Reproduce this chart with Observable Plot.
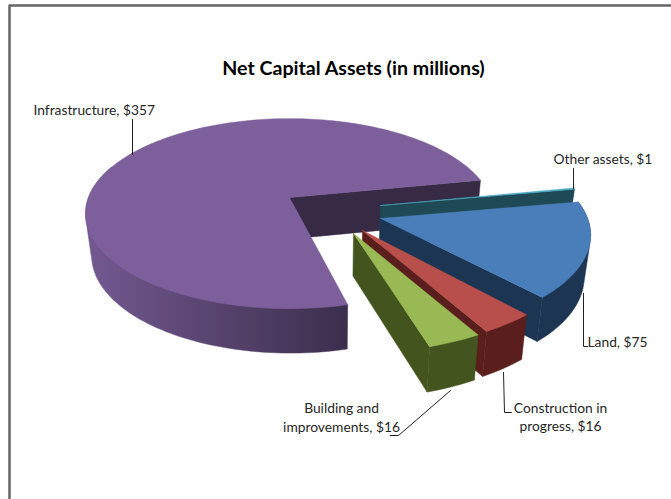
<!DOCTYPE html>
<html>
<head>
<meta charset="utf-8">
<script src="https://cdn.jsdelivr.net/npm/d3@7"></script>
<script src="https://cdn.jsdelivr.net/npm/@observablehq/plot@0.6"></script>
<style>
html,body{margin:0;padding:0;background:#fff}
svg{display:block}
</style>
</head>
<body>
<div id="chart"></div>
<script>
// Data
const categories = ["Other assets", "Land", "Construction in progress", "Building and improvements", "Infrastructure"];
const values = [1, 75, 16, 16, 357];
const title = "Net Capital Assets (in millions)";
const labelLines = [
  ["Other assets, $1"],
  ["Land, $75"],
  ["Construction in", "progress, $16"],
  ["Building and", "improvements, $16"],
  ["Infrastructure, $357"]
];

// Colours
const topColors = ["#4bacc6", "#4a7ebb", "#b94f4b", "#98b954", "#7d5f9c"];
const sideColors = ["#1f4a55", "#1c3553", "#5a1f1c", "#44541f", "#372a45"];

// 3-D look of the exploded pie
const apexX = [380, 380, 362, 353, 289];
const apexY = [205, 218, 230, 233, 197];
const sliceScale = [1.01, 1.03, 1.07, 1.075, 1];
const startNudge = [0, 0, 0, 0, 3.2];
const endNudge = [0, -1.5, 0, 0, 0];
const startDeg = 79, rx = 204, ry = 95, centerShift = 0.17;

const rad = (d) => d * Math.PI / 180;
const arcs = d3.pie().sort(null).startAngle(rad(startDeg)).endAngle(rad(startDeg + 360))(values);

function rim(i, a) {
  const dx = Math.sin(a), dy = -Math.cos(a);
  const b = dy * centerShift;
  const t = b + Math.sqrt(b * b - centerShift * centerShift + 1);
  return {x: apexX[i] + sliceScale[i] * rx * t * dx, y: apexY[i] + sliceScale[i] * ry * t * dy};
}
const lower = (p) => ({x: 330 + (p.x - 330) * 0.975, y: p.y + 41.5 + (p.y - 200) * 0.027});

let id = 0;
function face(target, pts, color) {
  id++;
  [...pts, pts[0]].forEach((p) => target.push({x: p.x, y: p.y, id, color}));
}
function rimPoints(i, maxDeg) {
  const a0 = arcs[i].startAngle + rad(startNudge[i]);
  const a1 = Math.min(arcs[i].endAngle + rad(endNudge[i]), maxDeg ? rad(maxDeg) : Infinity);
  const n = Math.max(2, Math.ceil((a1 - a0) / rad(1.5)));
  return d3.range(n + 1).map((k) => rim(i, a0 + (a1 - a0) * k / n));
}
// The side of a curved rim: the outline swept by the rim as it drops to the base
function sweep(r) {
  const hull = d3.polygonHull([...r, ...r.map(lower)].map((p) => [p.x, p.y]));
  return hull.map(([x, y]) => ({x, y}));
}

// Infrastructure inner wall, then its curved wall (gradient), then everything else
const backFaces = [], curvedWall = [], frontFaces = [];
function drawSlice(i) {
  const apex = {x: apexX[i], y: apexY[i]};
  const r = rimPoints(i);
  const end = r[r.length - 1];
  if (i === 4) {
    face(backFaces, [apex, end, lower(end), lower(apex)], sideColors[i]);
    face(curvedWall, sweep(rimPoints(i, 290)), "wall");
  } else {
    face(frontFaces, sweep(r), sideColors[i]);
    face(frontFaces, [apex, end, lower(end), lower(apex)], sideColors[i]);
  }
  face(frontFaces, [apex, ...r], topColors[i]);
}
[4, 0, 1, 2, 3].forEach(drawSlice);

const wallGradient = () => {
  const defs = d3.create("svg:defs");
  const g = defs.append("linearGradient").attr("id", "wallGrad")
    .attr("gradientUnits", "userSpaceOnUse")
    .attr("x1", 90).attr("x2", 350).attr("y1", 0).attr("y2", 0);
  g.append("stop").attr("offset", 0).attr("stop-color", "#72588f");
  g.append("stop").attr("offset", 1).attr("stop-color", "#3b2e4c");
  return defs.node();
};

// Leader lines
const leaders = [
  [[573, 168], [573, 188]],
  [[583, 293], [583, 346], [587, 346]],
  [[503, 372], [504, 412], [511, 412]],
  [[450, 390], [398, 435], [390, 435]],
  [[132, 119], [132, 154]]
].flatMap((seg, k) => seg.map(([x, y]) => ({x, y, k})));

// Label placement
const labelRows = [
  {t: labelLines[4][0], x: 33, y: 110, a: "start"},
  {t: labelLines[0][0], x: 553, y: 159, a: "start"},
  {t: labelLines[1][0], x: 587, y: 342, a: "start"},
  {t: labelLines[2][0], x: 560, y: 408, a: "middle"},
  {t: labelLines[2][1], x: 560, y: 426, a: "middle"},
  {t: labelLines[3][0], x: 341, y: 408, a: "middle"},
  {t: labelLines[3][1], x: 341, y: 427, a: "middle"}
];
const anchored = (a) => labelRows.filter((d) => d.a === a);
const labelOpts = {x: "x", y: "y", text: "t", fontSize: 13.8, fill: "#262626", fontFamily: "Lato"};
const faceOpts = {x: "x", y: "y", z: "id", fill: "color", stroke: "color", strokeWidth: 0.5};

const chart = Plot.plot({
  width: 671,
  height: 499,
  margin: 0,
  style: {background: "#fff"},
  x: {domain: [0, 671], range: [0, 671], axis: null},
  y: {domain: [0, 499], range: [0, 499], axis: null},
  color: {type: "identity"},
  marks: [
    wallGradient,
    Plot.line([{x: 9, y: 499}, {x: 9, y: 5}, {x: 671, y: 5}], {x: "x", y: "y", stroke: "#666", strokeWidth: 2.5}),
    Plot.line(backFaces, faceOpts),
    Plot.line(curvedWall, {x: "x", y: "y", z: "id", fill: "url(#wallGrad)", stroke: "url(#wallGrad)", strokeWidth: 0.5}),
    Plot.line(frontFaces, faceOpts),
    Plot.line(leaders, {x: "x", y: "y", z: "k", stroke: "#222", strokeWidth: 1}),
    Plot.text([title], {x: () => 353, y: () => 68, text: (d) => d, fontSize: 19.6, fontWeight: "bold", fill: "#000", fontFamily: "Lato"}),
    Plot.text(anchored("start"), {...labelOpts, textAnchor: "start"}),
    Plot.text(anchored("middle"), {...labelOpts, textAnchor: "middle"})
  ]
});
document.getElementById("chart").append(chart);
</script>
</body>
</html>
